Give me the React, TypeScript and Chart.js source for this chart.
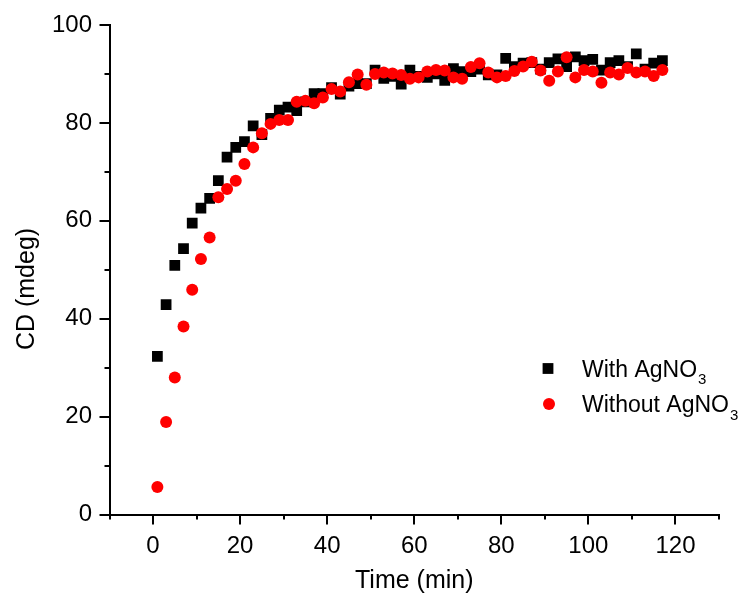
import React, { useEffect, useRef } from 'react';
import { Chart, registerables } from 'chart.js';

Chart.register(...registerables);

// ---- data ----
const times = [
  1, 3, 5, 7, 9, 11, 13, 15, 17, 19, 21, 23, 25, 27, 29, 31, 33, 35, 37, 39,
  41, 43, 45, 47, 49, 51, 53, 55, 57, 59, 61, 63, 65, 67, 69, 71, 73, 75, 77, 79,
  81, 83, 85, 87, 89, 91, 93, 95, 97, 99, 101, 103, 105, 107, 109, 111, 113, 115, 117,
];

const withAgNO3 = [
  32.3, 42.9, 50.9, 54.3, 59.5, 62.6, 64.6, 68.2, 73.0, 75.0, 76.2, 79.4, 77.6, 80.9, 82.6, 83.2, 82.5, 84.3, 86.0, 86.0,
  87.2, 85.9, 87.5, 88.0, 88.0, 90.8, 89.1, 89.5, 87.9, 90.8, 89.5, 89.3, 90.0, 88.7, 91.1, 90.5, 90.5, 91.0, 89.8, 89.8,
  93.2, 91.5, 92.2, 92.3, 91.0, 92.3, 93.1, 91.5, 93.5, 92.7, 93.0, 90.8, 92.3, 92.7, 91.5, 94.1, 91.0, 92.2, 92.7,
];

const withoutAgNO3 = [
  5.6, 18.9, 28.0, 38.4, 45.9, 52.2, 56.6, 64.8, 66.5, 68.2, 71.6, 75.0, 77.9, 79.8, 80.6, 80.6, 84.3, 84.5, 84.0, 85.2,
  86.9, 86.4, 88.3, 89.9, 87.8, 90.0, 90.3, 90.1, 89.8, 89.0, 89.3, 90.5, 90.8, 90.7, 89.3, 89.0, 91.4, 92.2, 90.3, 89.3,
  89.6, 90.6, 91.5, 92.5, 90.7, 88.6, 90.5, 93.4, 89.3, 90.8, 90.5, 88.2, 90.3, 89.9, 91.2, 90.3, 90.5, 89.6, 90.8,
];

const seriesNames = ['With AgNO', 'Without AgNO'];
const subscriptText = '3';
const xTickLabels = [0, 20, 40, 60, 80, 100, 120];
const yTickLabels = [0, 20, 40, 60, 80, 100];
const xTitle = 'Time (min)';
const yTitle = 'CD (mdeg)';

const FONT = "'Liberation Sans', Arial, Helvetica, sans-serif";
const TICK_FS = 24;
const TITLE_FS = 25;
const LEGEND_FS = 23;

const tickMarksPlugin = {
  id: 'tickMarks',
  afterDraw(chart: any) {
    const { ctx, chartArea } = chart;
    const x = chart.scales.x;
    const y = chart.scales.y;
    ctx.save();
    ctx.strokeStyle = '#000';
    ctx.lineWidth = 2;
    for (let v = x.min; v <= x.max; v += 10) {
      const px = Math.round(x.getPixelForValue(v));
      const len = xTickLabels.includes(v) ? 10 : 5;
      ctx.beginPath();
      ctx.moveTo(px, chartArea.bottom);
      ctx.lineTo(px, chartArea.bottom + len);
      ctx.stroke();
    }
    for (let v = y.min; v <= y.max; v += 10) {
      const py = Math.round(y.getPixelForValue(v));
      const len = yTickLabels.includes(v) ? 10 : 5;
      ctx.beginPath();
      ctx.moveTo(chartArea.left, py);
      ctx.lineTo(chartArea.left - len, py);
      ctx.stroke();
    }
    // axis titles
    ctx.fillStyle = '#000';
    ctx.font = `${TITLE_FS}px ${FONT}`;
    ctx.textAlign = 'center';
    ctx.textBaseline = 'middle';
    ctx.fillText(xTitle, (chartArea.left + chartArea.right) / 2, 581);
    ctx.translate(27, 289);
    ctx.rotate(-Math.PI / 2);
    ctx.fillText(yTitle, 0, 0);
    ctx.restore();
  },
};

const legendPlugin = {
  id: 'subLegend',
  afterDraw(chart: any) {
    const { ctx } = chart;
    const rows = [
      { cy: 368.5, base: 376.7, shape: 'rect', color: '#000000', text: seriesNames[0] },
      { cy: 404, base: 412, shape: 'circle', color: '#ff0000', text: seriesNames[1] },
    ];
    ctx.save();
    rows.forEach((r) => {
      ctx.fillStyle = r.color;
      if (r.shape === 'rect') {
        ctx.fillRect(548 - 5.4, r.cy - 5.4, 10.8, 10.8);
      } else {
        ctx.beginPath();
        ctx.arc(549, r.cy, 6, 0, Math.PI * 2);
        ctx.fill();
      }
      ctx.fillStyle = '#000';
      ctx.textBaseline = 'alphabetic';
      ctx.textAlign = 'left';
      ctx.font = `${LEGEND_FS}px ${FONT}`;
      ctx.fillText(r.text, 582, r.base);
      const w = ctx.measureText(r.text).width;
      ctx.font = `15px ${FONT}`;
      ctx.fillText(subscriptText, 582 + w + 1, r.base + 7.5);
    });
    ctx.restore();
  },
};

export default function App() {
  const ref = useRef<HTMLCanvasElement | null>(null);

  useEffect(() => {
    if (!ref.current) return;
    const chart = new Chart(ref.current, {
      type: 'scatter',
      data: {
        datasets: [
          {
            label: seriesNames[0] + '₃',
            data: times.map((t, i) => ({ x: t, y: withAgNO3[i] })),
            pointStyle: 'rect',
            pointRadius: 7.6,
            pointHoverRadius: 7.6,
            backgroundColor: '#000000',
            borderColor: '#000000',
            borderWidth: 0,
            order: 2,
          },
          {
            label: seriesNames[1] + '₃',
            data: times.map((t, i) => ({ x: t, y: withoutAgNO3[i] })),
            pointStyle: 'circle',
            pointRadius: 6,
            pointHoverRadius: 6,
            backgroundColor: '#ff0000',
            borderColor: '#ff0000',
            borderWidth: 0,
            order: 1,
          },
        ],
      },
      options: {
        animation: false,
        responsive: false,
        devicePixelRatio: 1,
        layout: { padding: { top: 25, right: 28, left: 0, bottom: 0 } },
        plugins: {
          legend: { display: false },
          tooltip: { enabled: false },
        },
        scales: {
          x: {
            type: 'linear',
            min: -10,
            max: 130,
            afterFit: (s: any) => {
              s.height = 86.5;
              s.paddingLeft = 0;
              s.paddingRight = 0;
            },
            grid: { display: false, drawTicks: false },
            border: { display: true, color: '#000', width: 2 },
            ticks: {
              stepSize: 10,
              padding: 17,
              color: '#000',
              font: { family: FONT, size: TICK_FS },
              maxRotation: 0,
              autoSkip: false,
              callback: (v: any) => (xTickLabels.includes(Number(v)) ? String(v) : ''),
            },
            title: { display: false, text: xTitle },
          },
          y: {
            type: 'linear',
            min: 0,
            max: 100,
            afterFit: (s: any) => {
              s.width = 109.5;
              s.paddingTop = 0;
              s.paddingBottom = 0;
            },
            grid: { display: false, drawTicks: false },
            border: { display: true, color: '#000', width: 2 },
            ticks: {
              stepSize: 10,
              padding: 17.5,
              color: '#000',
              font: { family: FONT, size: TICK_FS },
              autoSkip: false,
              callback: (v: any) => (yTickLabels.includes(Number(v)) ? String(v) : ''),
            },
            title: { display: false, text: yTitle },
          },
        },
      },
      plugins: [tickMarksPlugin, legendPlugin],
    });
    return () => chart.destroy();
  }, []);

  return (
    <div style={{ position: 'absolute', left: 0, top: 0, width: 747, height: 601, background: '#fff' }}>
      <canvas ref={ref} width={747} height={601} style={{ display: 'block', width: 747, height: 601 }} />
    </div>
  );
}
